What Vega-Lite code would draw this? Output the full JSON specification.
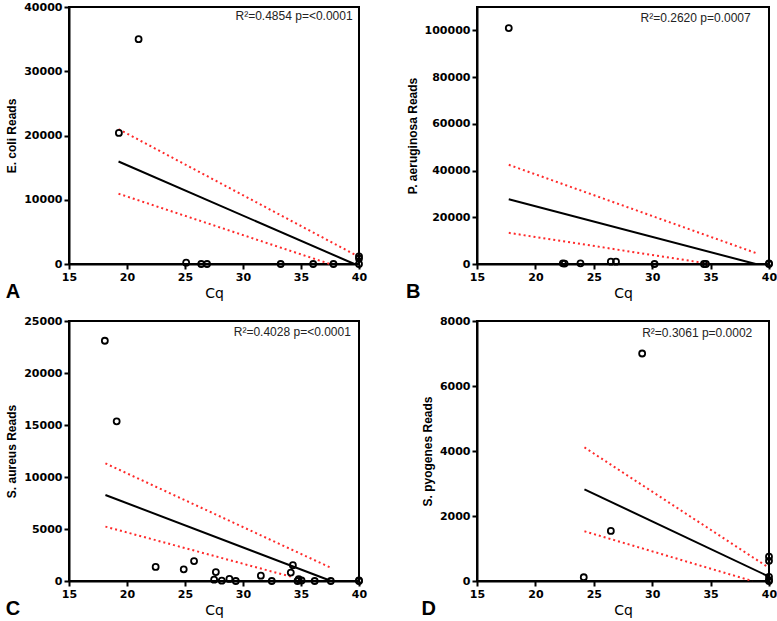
{
  "$schema": "https://vega.github.io/schema/vega-lite/v6.json",
  "padding": {"left": 4, "top": 0, "right": 2, "bottom": 0},
  "background": "white",
  "columns": 2,
  "spacing": {"row": 11, "column": 37},
  "datasets": {
    "pts": [
      {"panel": "A", "x": 21.0, "y": 35000}, {"panel": "A", "x": 19.3, "y": 20400}, {"panel": "A", "x": 25.1, "y": 200},
      {"panel": "A", "x": 26.4, "y": 0}, {"panel": "A", "x": 26.9, "y": 0}, {"panel": "A", "x": 33.25, "y": 0},
      {"panel": "A", "x": 36.05, "y": 0}, {"panel": "A", "x": 37.8, "y": 0}, {"panel": "A", "x": 40, "y": 0},
      {"panel": "A", "x": 40, "y": 850}, {"panel": "A", "x": 40, "y": 1200},
      {"panel": "B", "x": 17.72, "y": 101000}, {"panel": "B", "x": 22.35, "y": 300}, {"panel": "B", "x": 22.5, "y": 200},
      {"panel": "B", "x": 23.86, "y": 300}, {"panel": "B", "x": 26.46, "y": 1000}, {"panel": "B", "x": 26.9, "y": 1000},
      {"panel": "B", "x": 30.2, "y": 0}, {"panel": "B", "x": 34.43, "y": 0}, {"panel": "B", "x": 34.6, "y": 0},
      {"panel": "B", "x": 40, "y": 0}, {"panel": "B", "x": 40, "y": 300},
      {"panel": "C", "x": 18.09, "y": 23100}, {"panel": "C", "x": 19.11, "y": 15350}, {"panel": "C", "x": 22.47, "y": 1350},
      {"panel": "C", "x": 24.89, "y": 1120}, {"panel": "C", "x": 25.78, "y": 1920}, {"panel": "C", "x": 27.51, "y": 130},
      {"panel": "C", "x": 27.66, "y": 860}, {"panel": "C", "x": 28.17, "y": 30}, {"panel": "C", "x": 28.83, "y": 200},
      {"panel": "C", "x": 29.38, "y": 0}, {"panel": "C", "x": 31.54, "y": 510}, {"panel": "C", "x": 32.48, "y": 0},
      {"panel": "C", "x": 34.12, "y": 810}, {"panel": "C", "x": 34.3, "y": 1520}, {"panel": "C", "x": 34.7, "y": 0},
      {"panel": "C", "x": 34.8, "y": 170}, {"panel": "C", "x": 35.05, "y": 50}, {"panel": "C", "x": 36.18, "y": 0},
      {"panel": "C", "x": 37.57, "y": 0}, {"panel": "C", "x": 40, "y": 0}, {"panel": "C", "x": 40, "y": 60},
      {"panel": "D", "x": 29.14, "y": 7000}, {"panel": "D", "x": 26.46, "y": 1540}, {"panel": "D", "x": 24.14, "y": 115},
      {"panel": "D", "x": 40, "y": 750}, {"panel": "D", "x": 40, "y": 620}, {"panel": "D", "x": 40, "y": 130},
      {"panel": "D", "x": 40, "y": 30}, {"panel": "D", "x": 40, "y": 0}
    ],
    "lines": [
      {"panel": "A", "series": "fit", "x": 19.27, "y": 15950}, {"panel": "A", "series": "fit", "x": 39.6, "y": 0},
      {"panel": "A", "series": "upper", "x": 19.27, "y": 21000}, {"panel": "A", "series": "upper", "x": 39.6, "y": 1500},
      {"panel": "A", "series": "lower", "x": 19.27, "y": 10940}, {"panel": "A", "series": "lower", "x": 37.5, "y": 0},
      {"panel": "B", "series": "fit", "x": 17.72, "y": 27700}, {"panel": "B", "series": "fit", "x": 38.86, "y": 0},
      {"panel": "B", "series": "upper", "x": 17.72, "y": 42460}, {"panel": "B", "series": "upper", "x": 39.05, "y": 4400},
      {"panel": "B", "series": "lower", "x": 17.72, "y": 13340}, {"panel": "B", "series": "lower", "x": 35.0, "y": 0},
      {"panel": "C", "series": "fit", "x": 18.14, "y": 8270}, {"panel": "C", "series": "fit", "x": 37.6, "y": 0},
      {"panel": "C", "series": "upper", "x": 18.14, "y": 11310}, {"panel": "C", "series": "upper", "x": 37.68, "y": 1220},
      {"panel": "C", "series": "lower", "x": 18.14, "y": 5230}, {"panel": "C", "series": "lower", "x": 34.25, "y": 380},
      {"panel": "D", "series": "fit", "x": 24.2, "y": 2820}, {"panel": "D", "series": "fit", "x": 40, "y": 135},
      {"panel": "D", "series": "upper", "x": 24.2, "y": 4110}, {"panel": "D", "series": "upper", "x": 39.85, "y": 440},
      {"panel": "D", "series": "lower", "x": 24.2, "y": 1530}, {"panel": "D", "series": "lower", "x": 38.57, "y": 0}
    ],
    "notes": [
      {"panel": "A", "x": 39.45, "y": 38600, "label": "R²=0.4854 p=<0.0001"},
      {"panel": "B", "x": 38.43, "y": 105400, "label": "R²=0.2620 p=0.0007"},
      {"panel": "C", "x": 39.3, "y": 23970, "label": "R²=0.4028 p=<0.0001"},
      {"panel": "D", "x": 38.57, "y": 7620, "label": "R²=0.3061 p=0.0002"}
    ]
  },
  "concat": [
    {
      "width": 290, "height": 257,
      "title": {"text": "A", "orient": "bottom", "anchor": "start", "frame": "bounds", "fontSize": 20, "fontWeight": "bold", "color": "black", "offset": -18},
      "encoding": {
        "x": {"field": "x", "type": "quantitative", "scale": {"domain": [15, 40], "nice": false, "zero": false}, "axis": {"title": "Cq", "values": [15, 20, 25, 30, 35, 40], "labelFlush": false}},
        "y": {"field": "y", "type": "quantitative", "scale": {"domain": [0, 40000], "nice": false}, "axis": {"title": "E. coli Reads", "values": [0, 10000, 20000, 30000, 40000], "format": "d"}}
      },
      "layer": [
        {"data": {"name": "lines"}, "transform": [{"filter": "datum.panel === 'A' && datum.series !== 'fit'"}], "mark": {"type": "line", "color": "#ff2a2a", "strokeWidth": 2, "strokeDash": [2, 3]}, "encoding": {"detail": {"field": "series"}}},
        {"data": {"name": "lines"}, "transform": [{"filter": "datum.panel === 'A' && datum.series === 'fit'"}], "mark": {"type": "line", "color": "black", "strokeWidth": 2}, "encoding": {}},
        {"data": {"name": "pts"}, "transform": [{"filter": "datum.panel === 'A'"}], "mark": {"type": "point", "shape": "circle", "filled": false, "stroke": "black", "strokeWidth": 1.8, "size": 36, "opacity": 1}, "encoding": {}},
        {"data": {"name": "notes"}, "transform": [{"filter": "datum.panel === 'A'"}], "mark": {"type": "text", "align": "right", "baseline": "middle", "fontSize": 12, "color": "#222"}, "encoding": {"text": {"field": "label"}}}
      ]
    },
    {
      "width": 292, "height": 257,
      "title": {"text": "B", "orient": "bottom", "anchor": "start", "frame": "bounds", "fontSize": 20, "fontWeight": "bold", "color": "black", "offset": -18},
      "encoding": {
        "x": {"field": "x", "type": "quantitative", "scale": {"domain": [15, 40], "nice": false, "zero": false}, "axis": {"title": "Cq", "values": [15, 20, 25, 30, 35, 40], "labelFlush": false}},
        "y": {"field": "y", "type": "quantitative", "scale": {"domain": [0, 110000], "nice": false}, "axis": {"title": "P. aeruginosa Reads", "values": [0, 20000, 40000, 60000, 80000, 100000], "format": "d"}}
      },
      "layer": [
        {"data": {"name": "lines"}, "transform": [{"filter": "datum.panel === 'B' && datum.series !== 'fit'"}], "mark": {"type": "line", "color": "#ff2a2a", "strokeWidth": 2, "strokeDash": [2, 3]}, "encoding": {"detail": {"field": "series"}}},
        {"data": {"name": "lines"}, "transform": [{"filter": "datum.panel === 'B' && datum.series === 'fit'"}], "mark": {"type": "line", "color": "black", "strokeWidth": 2}, "encoding": {}},
        {"data": {"name": "pts"}, "transform": [{"filter": "datum.panel === 'B'"}], "mark": {"type": "point", "shape": "circle", "filled": false, "stroke": "black", "strokeWidth": 1.8, "size": 36, "opacity": 1}, "encoding": {}},
        {"data": {"name": "notes"}, "transform": [{"filter": "datum.panel === 'B'"}], "mark": {"type": "text", "align": "right", "baseline": "middle", "fontSize": 12, "color": "#222"}, "encoding": {"text": {"field": "label"}}}
      ]
    },
    {
      "width": 290, "height": 260,
      "title": {"text": "C", "orient": "bottom", "anchor": "start", "frame": "bounds", "fontSize": 20, "fontWeight": "bold", "color": "black", "offset": -18},
      "encoding": {
        "x": {"field": "x", "type": "quantitative", "scale": {"domain": [15, 40], "nice": false, "zero": false}, "axis": {"title": "Cq", "values": [15, 20, 25, 30, 35, 40], "labelFlush": false}},
        "y": {"field": "y", "type": "quantitative", "scale": {"domain": [0, 25000], "nice": false}, "axis": {"title": "S. aureus Reads", "values": [0, 5000, 10000, 15000, 20000, 25000], "format": "d"}}
      },
      "layer": [
        {"data": {"name": "lines"}, "transform": [{"filter": "datum.panel === 'C' && datum.series !== 'fit'"}], "mark": {"type": "line", "color": "#ff2a2a", "strokeWidth": 2, "strokeDash": [2, 3]}, "encoding": {"detail": {"field": "series"}}},
        {"data": {"name": "lines"}, "transform": [{"filter": "datum.panel === 'C' && datum.series === 'fit'"}], "mark": {"type": "line", "color": "black", "strokeWidth": 2}, "encoding": {}},
        {"data": {"name": "pts"}, "transform": [{"filter": "datum.panel === 'C'"}], "mark": {"type": "point", "shape": "circle", "filled": false, "stroke": "black", "strokeWidth": 1.8, "size": 36, "opacity": 1}, "encoding": {}},
        {"data": {"name": "notes"}, "transform": [{"filter": "datum.panel === 'C'"}], "mark": {"type": "text", "align": "right", "baseline": "middle", "fontSize": 12, "color": "#222"}, "encoding": {"text": {"field": "label"}}}
      ]
    },
    {
      "width": 292, "height": 260,
      "title": {"text": "D", "orient": "bottom", "anchor": "start", "frame": "bounds", "fontSize": 20, "fontWeight": "bold", "color": "black", "offset": -18},
      "encoding": {
        "x": {"field": "x", "type": "quantitative", "scale": {"domain": [15, 40], "nice": false, "zero": false}, "axis": {"title": "Cq", "values": [15, 20, 25, 30, 35, 40], "labelFlush": false}},
        "y": {"field": "y", "type": "quantitative", "scale": {"domain": [0, 8000], "nice": false}, "axis": {"title": "S. pyogenes Reads", "values": [0, 2000, 4000, 6000, 8000], "format": "d"}}
      },
      "layer": [
        {"data": {"name": "lines"}, "transform": [{"filter": "datum.panel === 'D' && datum.series !== 'fit'"}], "mark": {"type": "line", "color": "#ff2a2a", "strokeWidth": 2, "strokeDash": [2, 3]}, "encoding": {"detail": {"field": "series"}}},
        {"data": {"name": "lines"}, "transform": [{"filter": "datum.panel === 'D' && datum.series === 'fit'"}], "mark": {"type": "line", "color": "black", "strokeWidth": 2}, "encoding": {}},
        {"data": {"name": "pts"}, "transform": [{"filter": "datum.panel === 'D'"}], "mark": {"type": "point", "shape": "circle", "filled": false, "stroke": "black", "strokeWidth": 1.8, "size": 36, "opacity": 1}, "encoding": {}},
        {"data": {"name": "notes"}, "transform": [{"filter": "datum.panel === 'D'"}], "mark": {"type": "text", "align": "right", "baseline": "middle", "fontSize": 12, "color": "#222"}, "encoding": {"text": {"field": "label"}}}
      ]
    }
  ],
  "config": {
    "font": "Liberation Sans",
    "view": {"stroke": "black", "strokeWidth": 2},
    "axis": {
      "grid": false, "domainColor": "black", "domainWidth": 2, "tickColor": "black", "tickWidth": 2, "tickSize": 5,
      "labelFont": "DejaVu Sans", "labelFontWeight": "bold", "labelFontSize": 11, "labelColor": "black", "labelPadding": 2,
      "titleFont": "Liberation Sans", "titleFontSize": 12, "titleColor": "black", "titlePadding": 5
    },
    "axisX": {"titleFontWeight": "normal", "titleFontSize": 14, "titleFont": "DejaVu Sans", "titlePadding": 4},
    "axisY": {"titleFontWeight": "bold"},
    "title": {"font": "Liberation Sans"}
  }
}
